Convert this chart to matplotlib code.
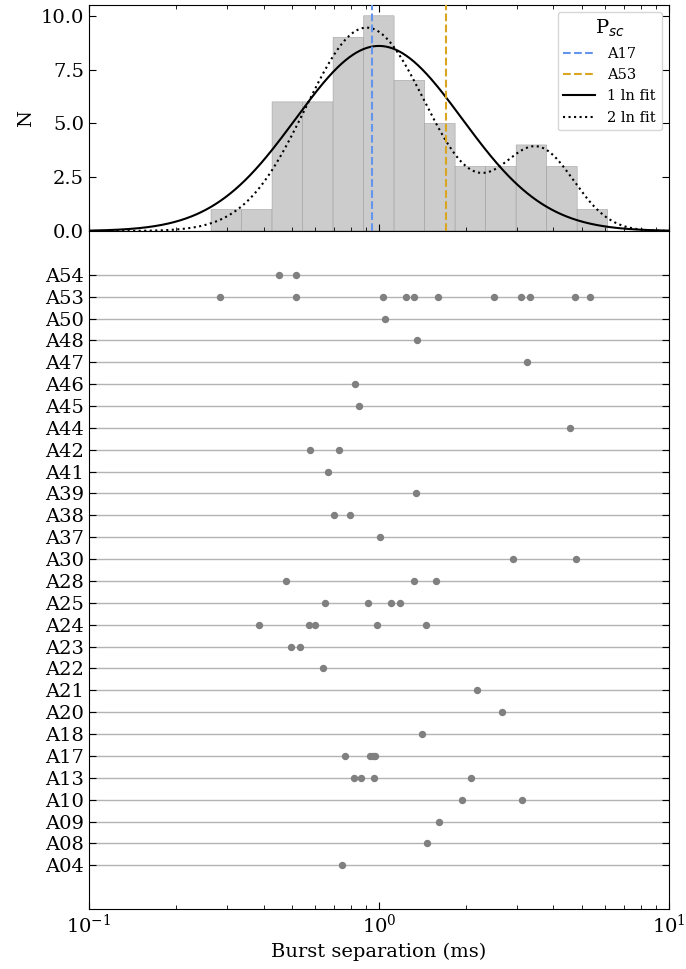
#!usr/bin/env python3
"""Burst separations per burst: histogram with lognormal fits on top,
separations of each burst underneath.
"""

import matplotlib
matplotlib.use('Agg')
import matplotlib.pyplot as plt
import numpy as np

# Burst names, bottom to top
BURSTS = ['A04', 'A08', 'A09', 'A10', 'A13', 'A17', 'A18', 'A20', 'A21',
          'A22', 'A23', 'A24', 'A25', 'A28', 'A30', 'A37', 'A38', 'A39',
          'A41', 'A42', 'A44', 'A45', 'A46', 'A47', 'A48', 'A50', 'A53',
          'A54']

# Separations between sub-bursts (ms), same order as BURSTS
SEPARATIONS = [
    [0.748],
    [1.460],
    [1.614],
    [1.928, 3.105],
    [0.822, 0.868, 0.958, 2.076],
    [0.763, 0.933, 0.951, 0.971],
    [1.411],
    [2.663],
    [2.172],
    [0.639],
    [0.496, 0.533],
    [0.386, 0.575, 0.601, 0.985, 1.456],
    [0.650, 0.914, 1.100, 1.181],
    [0.477, 1.317, 1.576],
    [2.90, 4.78],
    [1.005],
    [0.702, 0.798],
    [1.341],
    [0.667],
    [0.578, 0.728],
    [4.556],
    [0.855],
    [0.824],
    [3.247],
    [1.352],
    [1.049],
    [0.282, 0.516, 1.035, 1.236, 1.320, 1.593, 2.486, 3.08, 3.317, 4.75,
     5.33],
    [0.451, 0.518],
]

# Sub-component periods (ms)
PSC_A17 = 0.948
PSC_A53 = 1.70

# Histogram bin edges, log10(ms)
LOG_BIN_LO = -0.579
LOG_BIN_HI = 0.789
NBINS = 13

# Fit parameters in log10(ms): (amplitude, mean, sigma)
FIT1 = (8.6, 0.0, 0.287)
FIT2 = [(9.45, -0.0425, 0.21), (3.75, 0.549, 0.125)]


def gauss_log(x, amp, mu, sig):
    """Gaussian in log10 space (lognormal shape on a log axis)."""
    return amp * np.exp(-(np.log10(x) - mu)**2 / (2 * sig**2))


if __name__ == "__main__":
    plt.rcParams['font.family'] = 'DejaVu Serif'
    plt.rcParams['font.size'] = 14
    plt.rcParams['xtick.direction'] = 'in'
    plt.rcParams['ytick.direction'] = 'in'
    plt.rcParams['xtick.top'] = True
    plt.rcParams['ytick.right'] = True
    plt.rcParams['xtick.major.size'] = 5
    plt.rcParams['ytick.major.size'] = 5
    plt.rcParams['xtick.minor.size'] = 3

    fig, (ax1, ax2) = plt.subplots(
        2, 1, figsize=(6.86, 9.69), dpi=100, sharex=True,
        gridspec_kw={'height_ratios': [1, 3], 'hspace': 0})
    fig.subplots_adjust(left=0.1297, right=0.975, top=0.9948, bottom=0.0619)

    all_seps = np.concatenate([np.array(s) for s in SEPARATIONS])
    bins = np.logspace(LOG_BIN_LO, LOG_BIN_HI, NBINS + 1)
    _, _, patches = ax1.hist(all_seps, bins=bins, color='0.8',
                             edgecolor='0.6', linewidth=0.35, zorder=1)
    for p in patches:
        p.set_snap(False)

    ax1.axvline(PSC_A17, color='cornflowerblue', ls='--', lw=1.5,
                label='A17', zorder=3)
    ax1.axvline(PSC_A53, color='goldenrod', ls='--', lw=1.5,
                label='A53', zorder=3)

    x = np.logspace(-1, 1, 600)
    ax1.plot(x, gauss_log(x, *FIT1), 'k', lw=1.5, label='1 ln fit', zorder=2)
    y2 = sum(gauss_log(x, *f) for f in FIT2)
    ax1.plot(x, y2, 'k:', lw=1.5, label='2 ln fit', zorder=2)

    ax1.set_xscale('log')
    ax1.set_xlim(0.1, 10)
    ax1.set_ylim(0, 10.5)
    ax1.set_yticks([0, 2.5, 5, 7.5, 10])
    ax1.set_yticklabels(['0.0', '2.5', '5.0', '7.5', '10.0'])
    ax1.set_ylabel('N')
    ax1.tick_params(labelbottom=False)
    ax1.legend(title='P$_{sc}$', fontsize=10.5, title_fontsize=14,
               loc='upper right', handlelength=2.2)

    # Bottom panel: one row per burst
    for i, seps in enumerate(SEPARATIONS):
        ax2.axhline(i, color='0.7', lw=1, zorder=1)
        ax2.plot(seps, [i] * len(seps), 'o', color='grey', ms=4.3,
                 zorder=2)
    ax2.set_yticks(range(len(BURSTS)))
    ax2.set_yticklabels(BURSTS)
    ax2.set_ylim(-2, 29)
    ax2.tick_params(axis='x', which='both', top=False)
    ax2.tick_params(axis='y', which='minor', left=False, right=False)
    ax2.set_xlabel('Burst separation (ms)')

    fig.savefig('out.png', dpi=100)
